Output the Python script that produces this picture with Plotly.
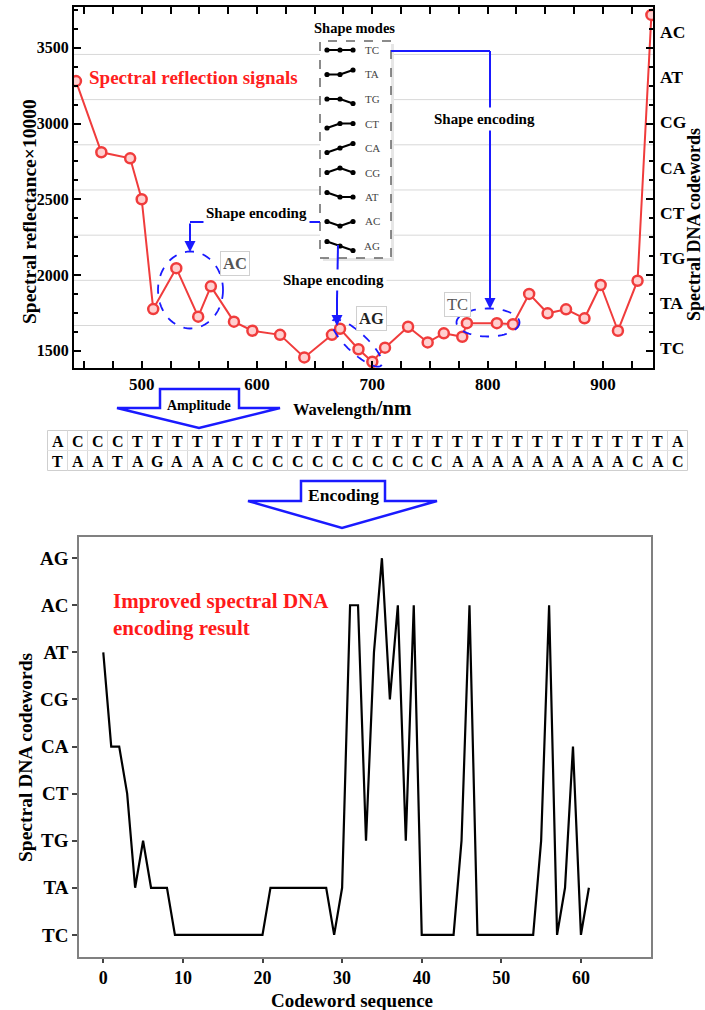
import numpy as np
import plotly.graph_objects as go

W, H = 705, 1010
SERIF = "Liberation Serif, Times New Roman, serif"
RED = "#f03c3c"
BLUE = "#1a1aff"

# ---------------- data ----------------
wavelength = [443, 465, 490, 500, 510, 530, 549, 560, 580, 596, 620, 641, 665, 672,
              688, 700, 711, 731, 748, 762, 778, 782, 808, 822, 836, 852, 868, 884,
              898, 913, 930, 942]
reflectance = [3280, 2810, 2770, 2500, 1775, 2045, 1725, 1925, 1692, 1632, 1605, 1456,
               1605, 1645, 1510, 1427, 1520, 1658, 1555, 1615, 1592, 1682, 1682, 1675,
               1875, 1747, 1773, 1714, 1934, 1632, 1962, 3717]

right_codewords = ["TC", "TA", "TG", "CT", "CA", "CG", "AT", "AC"]
code_levels = ["TC", "TA", "TG", "CT", "CA", "CG", "AT", "AC", "AG"]

codeword_sequence = (["AT", "CA", "CA", "CT", "TA", "TG", "TA", "TA", "TA"]
                     + ["TC"] * 12 + ["TA"] * 8
                     + ["TC", "TA", "AC", "AC", "TG", "AT", "AG", "CG", "AC", "TG", "AC"]
                     + ["TC"] * 5 + ["TG", "AC"] + ["TC"] * 8
                     + ["TG", "AC", "TC", "TA", "CA", "TC", "TA"])

row1_bases = list("ACCCTTTTTTTTTTTTTTTTTTTTTTTTTTTA")
row2_bases = list("TAATAGAAACCCCCCCCCCCAAAAAAAAACAC")

shape_mode_names = ["TC", "TA", "TG", "CT", "CA", "CG", "AT", "AC", "AG"]
shape_mode_patterns = [[0, 0, 0], [0, 0, 1], [0, 0, -1], [-1, 0, 0], [-1, 0, 1],
                       [0, 1, 0], [1, 0, 0], [0, -1, 0], [1, 0, -1]]

x_ticks_top = [500, 600, 700, 800, 900]
y_ticks_top = [1500, 2000, 2500, 3000, 3500]
x_ticks_bottom = [0, 10, 20, 30, 40, 50, 60]


def px(x):
    return x / W


def py(y):
    return 1 - y / H


shapes = []
annotations = []


def line(x0, y0, x1, y1, color=BLUE, width=2, dash=None, layer="above"):
    shapes.append(dict(type="line", xref="paper", yref="paper",
                       x0=px(x0), y0=py(y0), x1=px(x1), y1=py(y1),
                       line=dict(color=color, width=width, dash=dash), layer=layer))


def text(x, y, t, size, color="black", bold=True, bg=None, xanchor="center",
         bordercolor=None, textangle=0, pad=1):
    d = dict(xref="paper", yref="paper", x=px(x), y=py(y), text=t, showarrow=False,
             font=dict(family=SERIF, size=size, color=color,
                       weight="bold" if bold else "normal"),
             xanchor=xanchor, yanchor="middle", textangle=textangle, borderpad=pad)
    if bg:
        d["bgcolor"] = bg
    if bordercolor:
        d["bordercolor"] = bordercolor
        d["borderwidth"] = 1
    annotations.append(d)


def arrow(xh, yh, xt, yt):
    annotations.append(dict(xref="paper", yref="paper", x=px(xh), y=py(yh),
                            ax=xt - xh, ay=yt - yh, axref="pixel", ayref="pixel",
                            text="", showarrow=True, arrowhead=2, arrowsize=1.1,
                            arrowwidth=2, arrowcolor=BLUE, standoff=0))


def poly(points, line_color=BLUE, fill="white", width=2.5):
    p = "M " + " L ".join(f"{px(x):.5f},{py(y):.5f}" for x, y in points) + " Z"
    shapes.append(dict(type="path", xref="paper", yref="paper", path=p,
                       fillcolor=fill, line=dict(color=line_color, width=width),
                       layer="above"))


def ellipse(cx, cy, rx, ry, angle_deg=0, dash="dash", color=BLUE, width=1.8):
    t = np.linspace(0, 2 * np.pi, 80)
    a = np.deg2rad(angle_deg)
    xs = cx + rx * np.cos(t) * np.cos(a) - ry * np.sin(t) * np.sin(a)
    ys = cy + rx * np.cos(t) * np.sin(a) + ry * np.sin(t) * np.cos(a)
    p = "M " + " L ".join(f"{px(x):.5f},{py(y):.5f}" for x, y in zip(xs, ys)) + " Z"
    shapes.append(dict(type="path", xref="paper", yref="paper", path=p,
                       line=dict(color=color, width=width, dash=dash), layer="above"))


# ---------------- figure ----------------
fig = go.Figure()
fig.add_trace(go.Scatter(
    x=wavelength, y=reflectance, mode="lines+markers", xaxis="x", yaxis="y",
    line=dict(color=RED, width=2),
    marker=dict(symbol="circle", size=10, color="#ffd0d0",
                line=dict(color=RED, width=2.5)),
    showlegend=False))
fig.add_trace(go.Scatter(x=[wavelength[0]], y=[0], xaxis="x", yaxis="y2",
                         mode="markers", marker=dict(opacity=0), showlegend=False,
                         hoverinfo="skip"))
fig.add_trace(go.Scatter(
    x=list(range(len(codeword_sequence))),
    y=[code_levels.index(c) for c in codeword_sequence],
    mode="lines", xaxis="x2", yaxis="y3",
    line=dict(color="black", width=2.2), showlegend=False))

TX0, TX1, TY0, TY1 = 74, 653, 7, 368
BX0, BX1, BY0, BY1 = 79, 651, 537, 957


def tf(size):
    return dict(family=SERIF, size=size, color="black", weight="bold")


fig.update_layout(
    width=W, height=H, margin=dict(l=0, r=0, t=0, b=0),
    paper_bgcolor="white", plot_bgcolor="white", showlegend=False,
    xaxis=dict(domain=[px(TX0), px(TX1)], range=[441.3, 943.4], anchor="y",
               tickvals=x_ticks_top, ticks="inside", ticklen=7, tickwidth=1.5,
               tickcolor="black", minor=dict(dtick=25, tick0=500, ticks="inside",
                                             ticklen=4, tickcolor="black"),
               showline=True, linewidth=2, linecolor="black", mirror="allticks",
               showgrid=False, zeroline=False, tickfont=tf(17), automargin=False),
    yaxis=dict(domain=[py(TY1), py(TY0)], range=[1386, 3769], anchor="x",
               tickvals=y_ticks_top, ticks="inside", ticklen=7, tickwidth=1.5,
               tickcolor="black", minor=dict(dtick=125, tick0=1500, ticks="inside",
                                             ticklen=4, tickcolor="black"),
               showline=True, linewidth=2, linecolor="black", mirror="allticks",
               showgrid=False, zeroline=False, tickfont=tf(16), automargin=False),
    yaxis2=dict(overlaying="y", side="right", anchor="x", range=[-0.44, 7.55],
                tickvals=list(range(len(right_codewords))), ticktext=right_codewords,
                ticks="", showgrid=False, showline=False, zeroline=False,
                tickfont=tf(17.5), ticklabelstandoff=6, automargin=False),
    xaxis2=dict(domain=[px(BX0), px(BX1)], range=[-3.05, 68.8], anchor="y3",
                tickvals=x_ticks_bottom, ticks="outside", ticklen=4, tickwidth=1.5,
                tickcolor="#444", showline=True, linewidth=1.5, linecolor="#808080",
                mirror=True, showgrid=False, zeroline=False, tickfont=tf(18),
                automargin=False),
    yaxis3=dict(domain=[py(BY1), py(BY0)], range=[-0.47, 8.45], anchor="x2",
                tickvals=list(range(len(code_levels))), ticktext=code_levels,
                ticks="outside", ticklen=5, tickwidth=1.5, tickcolor="#444",
                showline=True, linewidth=1.5, linecolor="#808080", mirror=True,
                showgrid=False, zeroline=False, tickfont=tf(19), automargin=False),
)

# gridlines between right-axis codewords
for k in range(len(right_codewords) - 1):
    shapes.append(dict(type="line", xref="paper", yref="y2", x0=px(TX0), x1=px(TX1),
                       y0=k + 0.5, y1=k + 0.5, line=dict(color="#d8d8d8", width=1),
                       layer="below"))

# ---- axis titles ----
text(30, 212, "Spectral reflectance×10000", 19.5, textangle=-90)
text(694, 225, "Spectral DNA codewords", 18, textangle=-90)
text(352, 408, "Wavelength<span style='font-size:21px'>/nm</span>", 16.5)
text(25, 758, "Spectral DNA codewords", 19.5, textangle=-90)
text(352, 1000, "Codeword sequence", 19)

# ---- top chart annotations ----
text(87, 78, "Spectral reflection signals", 19, color="#ff2020", xanchor="left")

# inset box of shape modes
shapes.append(dict(type="rect", xref="paper", yref="paper", x0=px(323), x1=px(394),
                   y0=py(261), y1=py(44), fillcolor="#e6e6e6", line=dict(width=0),
                   layer="above"))
shapes.append(dict(type="rect", xref="paper", yref="paper", x0=px(320), x1=px(391),
                   y0=py(258), y1=py(41), fillcolor="white",
                   line=dict(color="#666", width=1.5, dash="dash"), layer="above"))
text(355, 28, "Shape modes", 14.5)
row_y0, row_step, amp = 50, 24.5, 4.5
dot_x = [327, 340, 353]
for i, (name, pat) in enumerate(zip(shape_mode_names, shape_mode_patterns)):
    cy = row_y0 + i * row_step
    ys = [cy - amp * v for v in pat]
    for j in range(2):
        line(dot_x[j], ys[j], dot_x[j + 1], ys[j + 1], color="black", width=2)
    for xx, yy in zip(dot_x, ys):
        shapes.append(dict(type="circle", xref="paper", yref="paper",
                           x0=px(xx - 2.6), x1=px(xx + 2.6), y0=py(yy + 2.6),
                           y1=py(yy - 2.6), fillcolor="black",
                           line=dict(color="black", width=0), layer="above"))
    text(372, cy, name, 11, color="#444", bold=False)

# blue connectors
line(190, 222, 320, 222)
arrow(190, 252, 190, 222)
text(256, 213, "Shape encoding", 15, bg="white", pad=2)

line(338, 245, 337, 300)
arrow(337, 326, 337, 298)
text(333, 280, "Shape encoding", 15, bg="white", pad=2)

line(391, 51, 490, 51)
line(490, 51, 490, 280)
arrow(490, 309, 490, 278)
text(484, 119, "Shape encoding", 15, bg="white", pad=3)

# dashed ellipses
ellipse(190.5, 290, 32.5, 38.5)
ellipse(357, 343, 33, 10, angle_deg=43)
ellipse(488, 322.5, 31.5, 14)

# label boxes
text(235, 263, "AC", 16.5, color="#555", bg="white", bordercolor="#d0d0d0", pad=2)
text(371, 318, "AG", 16.5, color="#222", bg="white", bordercolor="#d0d0d0", pad=2)
text(457, 304, "TC", 16.5, color="#555", bold=False, bg="white", bordercolor="#d0d0d0",
     pad=2)

# ---- Amplitude block arrow ----
poly([(160, 389), (239, 389), (239, 408), (280, 408), (199, 428), (117, 408),
      (160, 408)])
text(199, 405, "Amplitude", 14)

# ---- DNA table ----
TBL_X0, TBL_Y0, CELL_W, CELL_H = 47.5, 430.5, 20, 20
ncol = len(row1_bases)
shapes.append(dict(type="rect", xref="paper", yref="paper", x0=px(TBL_X0),
                   x1=px(TBL_X0 + ncol * CELL_W), y0=py(TBL_Y0 + 2 * CELL_H),
                   y1=py(TBL_Y0), fillcolor="white",
                   line=dict(color="#cfcfcf", width=1), layer="above"))
for c in range(1, ncol):
    line(TBL_X0 + c * CELL_W, TBL_Y0, TBL_X0 + c * CELL_W, TBL_Y0 + 2 * CELL_H,
         color="#dadada", width=1)
line(TBL_X0, TBL_Y0 + CELL_H, TBL_X0 + ncol * CELL_W, TBL_Y0 + CELL_H,
     color="#e4e4e4", width=1)
for r, row in enumerate([row1_bases, row2_bases]):
    for c, b in enumerate(row):
        text(TBL_X0 + (c + 0.5) * CELL_W, TBL_Y0 + (r + 0.5) * CELL_H + 1, b, 16)

# ---- Encoding block arrow ----
poly([(301, 481), (385, 481), (385, 501), (437, 501), (342, 528), (248, 501),
      (301, 501)])
text(343, 495, "Encoding", 17.5)

# ---- bottom chart annotation ----
text(111, 601, "Improved spectral DNA", 21, color="#ff1a1a", xanchor="left")
text(111, 628, "encoding result", 21, color="#ff1a1a", xanchor="left")

fig.update_layout(shapes=shapes, annotations=annotations)
fig.write_html("out.html")
